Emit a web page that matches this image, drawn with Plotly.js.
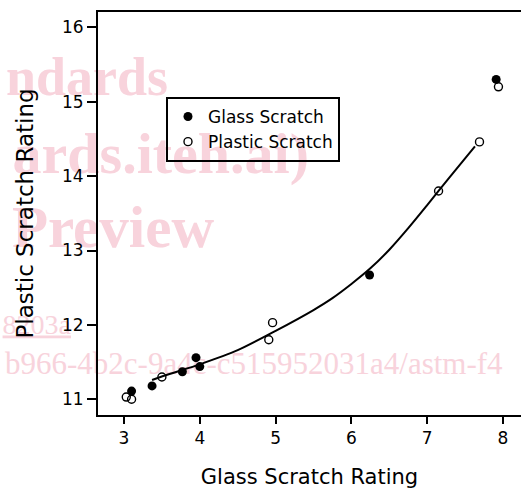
<!DOCTYPE html>
<html>
<head>
<meta charset="utf-8">
<script src="https://cdn.plot.ly/plotly-3.0.1.min.js"></script>
<style>html,body{margin:0;padding:0;background:#fff;}#chart{width:521px;height:489px;}</style>
</head>
<body>
<div id="chart"></div>
<script>
// Data
var glassX = [3.10, 3.37, 3.77, 3.95, 4.00, 6.24, 7.91];
var glassY = [11.11, 11.18, 11.37, 11.56, 11.44, 12.67, 15.30];
var plasticX = [3.03, 3.10, 3.50, 4.91, 4.96, 7.15, 7.69, 7.94];
var plasticY = [11.03, 11.00, 11.30, 11.80, 12.03, 13.80, 14.46, 15.20];
var curveX = [3.37, 3.6, 4.0, 4.5, 5.0, 5.5, 5.75, 6.0, 6.25, 6.5, 6.75, 7.0, 7.3, 7.63];
var curveY = [11.26, 11.34, 11.47, 11.66, 11.92, 12.20, 12.36, 12.55, 12.76, 13.01, 13.30, 13.61, 13.99, 14.40];
var xTicks = [3, 4, 5, 6, 7, 8];
var yTicks = [11, 12, 13, 14, 15, 16];
var seriesNames = ["Glass Scratch", "Plastic Scratch"];
var xTitle = "Glass Scratch Rating";
var yTitle = "Plastic Scratch Rating";
var watermark = ["ndards", "ards.iteh.ai)", "Preview", "8203a", "b966-4b2c-9a4c-c515952031a4/astm-f4"];

var W = 521, H = 489, ML = 98, MR = 0, MT = 12, MB = 74;
var PW = W - ML - MR, PH = H - MT - MB;
function px(x) { return (x - ML) / PW; }
function py(y) { return (H - MB - y) / PH; }

var font = "DejaVu Sans, Arial, sans-serif";
var pink = "#f8d3dc";

function wm(text, left, right, cy, size, bold, anchor, under) {
  var f = {family: "Liberation Serif, Times New Roman, serif", size: size, color: pink};
  if (bold) f.weight = "bold";
  if (under) f.lineposition = "under";
  return {
    type: "rect", xref: "paper", yref: "paper", layer: "below",
    x0: px(left), x1: px(right), y0: py(cy + 10), y1: py(cy - 10),
    line: {width: 0}, fillcolor: "rgba(0,0,0,0)",
    label: {text: text, font: f, textposition: "middle " + anchor, padding: 0}
  };
}

var traces = [
  {x: curveX, y: curveY, type: "scatter", mode: "lines", line: {color: "#000", width: 2, shape: "spline", smoothing: 0.8}, showlegend: false, hoverinfo: "skip"},
  {x: glassX, y: glassY, type: "scatter", mode: "markers", name: seriesNames[0], marker: {symbol: "circle", color: "#000", size: 9}},
  {x: plasticX, y: plasticY, type: "scatter", mode: "markers", name: seriesNames[1], marker: {symbol: "circle-open", color: "#000", size: 8, line: {width: 1.4, color: "#000"}}}
];

var layout = {
  width: W, height: H,
  margin: {l: ML, r: MR, t: MT, b: MB, pad: 0},
  paper_bgcolor: "rgba(255,255,255,0)", plot_bgcolor: "rgba(255,255,255,0)",
  font: {family: font, color: "#000"},
  showlegend: true,
  legend: {x: px(166), y: py(97), xanchor: "left", yanchor: "top", bgcolor: "rgba(0,0,0,0)", bordercolor: "#000", borderwidth: 2, font: {family: font, size: 17, color: "#000"}},
  xaxis: {range: [3 - (124 - ML) / 75.8, 3 + (W - MR - 124) / 75.8], tickvals: xTicks, ticktext: xTicks.map(String), ticks: "outside", ticklen: 7, tickwidth: 2, tickcolor: "#000",
    showline: true, linewidth: 2, linecolor: "#000", mirror: true, showgrid: false, zeroline: false,
    tickfont: {family: font, size: 17, color: "#000"},
    title: {text: xTitle, font: {family: font, size: 21, color: "#000"}, standoff: 25}},
  yaxis: {range: [11 - (415 - 399.3) / 74.4, 16 + (27.3 - MT) / 74.4], tickvals: yTicks, ticktext: yTicks.map(String), ticks: "outside", ticklen: 9, tickwidth: 2, tickcolor: "#000",
    showline: true, linewidth: 2, linecolor: "#000", mirror: true, showgrid: false, zeroline: false,
    tickfont: {family: font, size: 17, color: "#000"},
    title: {text: yTitle, font: {family: font, size: 23, color: "#000"}, standoff: 22}},
  shapes: [
    wm(watermark[0], -400, 171, 71, 54, true, "right", false),
    wm(watermark[1], -600, 312, 147, 58, true, "right", false),
    wm(watermark[2], -400, 217, 221, 59, true, "right", false),
    wm(watermark[3], -400, 74, 321, 28, false, "right", true),
    wm(watermark[4], 2, 900, 360, 31, false, "left", false)
  ]
};

Plotly.newPlot("chart", traces, layout, {displayModeBar: false, staticPlot: true});
</script>
</body>
</html>
